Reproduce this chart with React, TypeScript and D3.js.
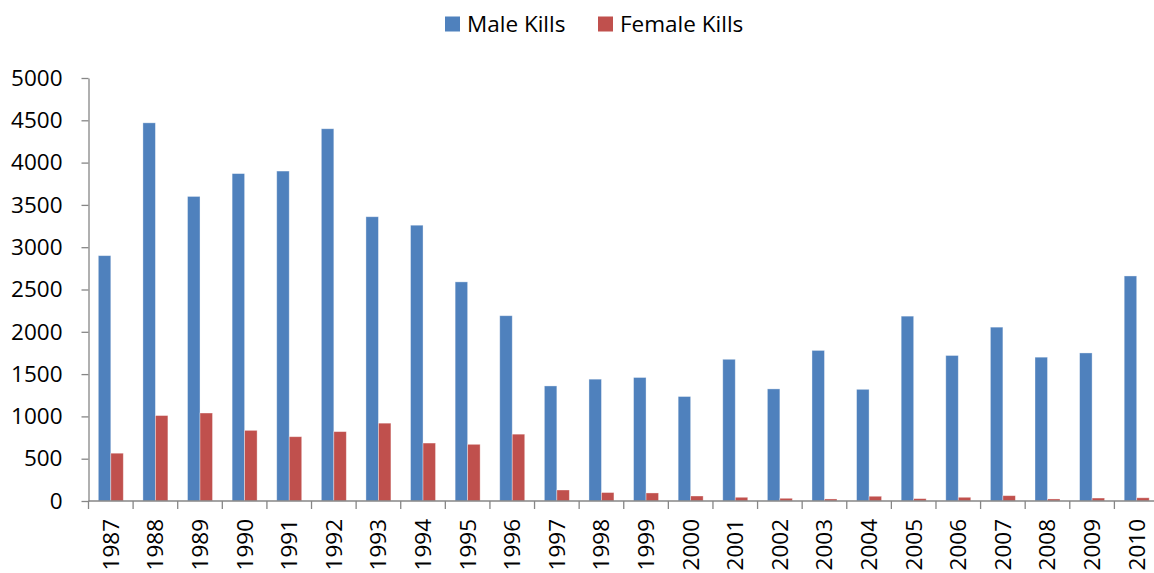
import * as d3 from "d3";
import { useRef, useEffect } from "react";

const years = [
  "1987", "1988", "1989", "1990", "1991", "1992", "1993", "1994",
  "1995", "1996", "1997", "1998", "1999", "2000", "2001", "2002",
  "2003", "2004", "2005", "2006", "2007", "2008", "2009", "2010",
];
const maleKills = [
  2900, 4470, 3600, 3870, 3900, 4400, 3360, 3260, 2590, 2190, 1360, 1440,
  1460, 1235, 1675, 1325, 1780, 1320, 2185, 1720, 2055, 1700, 1750, 2660,
];
const femaleKills = [
  565, 1010, 1040, 835, 760, 820, 920, 685, 670, 790, 130, 100,
  95, 59, 44, 32, 24, 56, 28, 44, 63, 24, 35, 38,
];
const seriesNames = ["Male Kills", "Female Kills"];
const yTicks = [0, 500, 1000, 1500, 2000, 2500, 3000, 3500, 4000, 4500, 5000];

const width = 1154;
const height = 573;
const font = "'Open Sans', sans-serif";
const fontSize = 22.5;
const axisColor = "#868686";
const colors = ["#4F81BD", "#C0504D"];

export default function App() {
  const svgRef = useRef<SVGSVGElement | null>(null);

  useEffect(() => {
    if (!svgRef.current) return;
    const svg = d3.select(svgRef.current);
    svg.selectAll("*").remove();

    const x = d3.scaleBand().domain(years).range([88.5, 1159]).padding(0);
    const y = d3.scaleLinear().domain([0, 5000]).range([501, 78]);
    const bw = x.bandwidth();

    // bars
    const series = [maleKills, femaleKills];
    series.forEach((vals, si) => {
      svg
        .append("g")
        .selectAll("rect")
        .data(vals)
        .join("rect")
        .attr("x", (_, i) => x(years[i])! + bw * 0.22 + si * bw * 0.28)
        .attr("y", (d) => y(d))
        .attr("width", bw * 0.28)
        .attr("height", (d) => y(0) - y(d))
        .attr("fill", colors[si])
        .attr("stroke", "rgba(255,255,255,0.45)")
        .attr("stroke-width", 0.8);
    });

    // y axis
    const yAxis = svg
      .append("g")
      .attr("transform", `translate(88.5,0)`)
      .call(
        d3
          .axisLeft(y)
          .tickValues(yTicks)
          .tickFormat((d) => String(d))
          .tickSize(7)
          .tickPadding(19)
          .tickSizeOuter(0)
      );
    yAxis.select(".domain").attr("stroke", axisColor).attr("stroke-width", 1.3);
    yAxis.selectAll(".tick line").attr("stroke", axisColor).attr("stroke-width", 1.3);
    yAxis
      .selectAll(".tick text")
      .attr("fill", "#000")
      .attr("font-family", font)
      .attr("font-size", fontSize);

    // x axis line and ticks at band edges
    svg
      .append("line")
      .attr("x1", 88.5)
      .attr("x2", width)
      .attr("y1", y(0))
      .attr("y2", y(0))
      .attr("stroke", axisColor)
      .attr("stroke-width", 1.3);
    svg
      .append("g")
      .selectAll("line")
      .data(years)
      .join("line")
      .attr("x1", (d) => x(d)!)
      .attr("x2", (d) => x(d)!)
      .attr("y1", y(0))
      .attr("y2", y(0) + 8)
      .attr("stroke", axisColor)
      .attr("stroke-width", 1.3);

    // x labels rotated
    svg
      .append("g")
      .selectAll("text")
      .data(years)
      .join("text")
      .attr("transform", (d) => `translate(${x(d)! + bw / 2 + 8},519) rotate(-90)`)
      .attr("text-anchor", "end")
      .attr("font-family", font)
      .attr("font-size", fontSize)
      .attr("fill", "#000")
      .text((d) => d);

    // legend
    const legendX = [445, 598];
    seriesNames.forEach((name, i) => {
      svg
        .append("rect")
        .attr("x", legendX[i])
        .attr("y", 16.5)
        .attr("width", 15)
        .attr("height", 15)
        .attr("fill", colors[i]);
      svg
        .append("text")
        .attr("x", legendX[i] + 22)
        .attr("y", 31.5)
        .attr("font-family", font)
        .attr("font-size", fontSize)
        .attr("fill", "#000")
        .text(name);
    });
  }, []);

  return (
    <svg
      ref={svgRef}
      width={width}
      height={height}
      style={{ position: "absolute", left: 0, top: 0, background: "#fff" }}
    ></svg>
  );
}
